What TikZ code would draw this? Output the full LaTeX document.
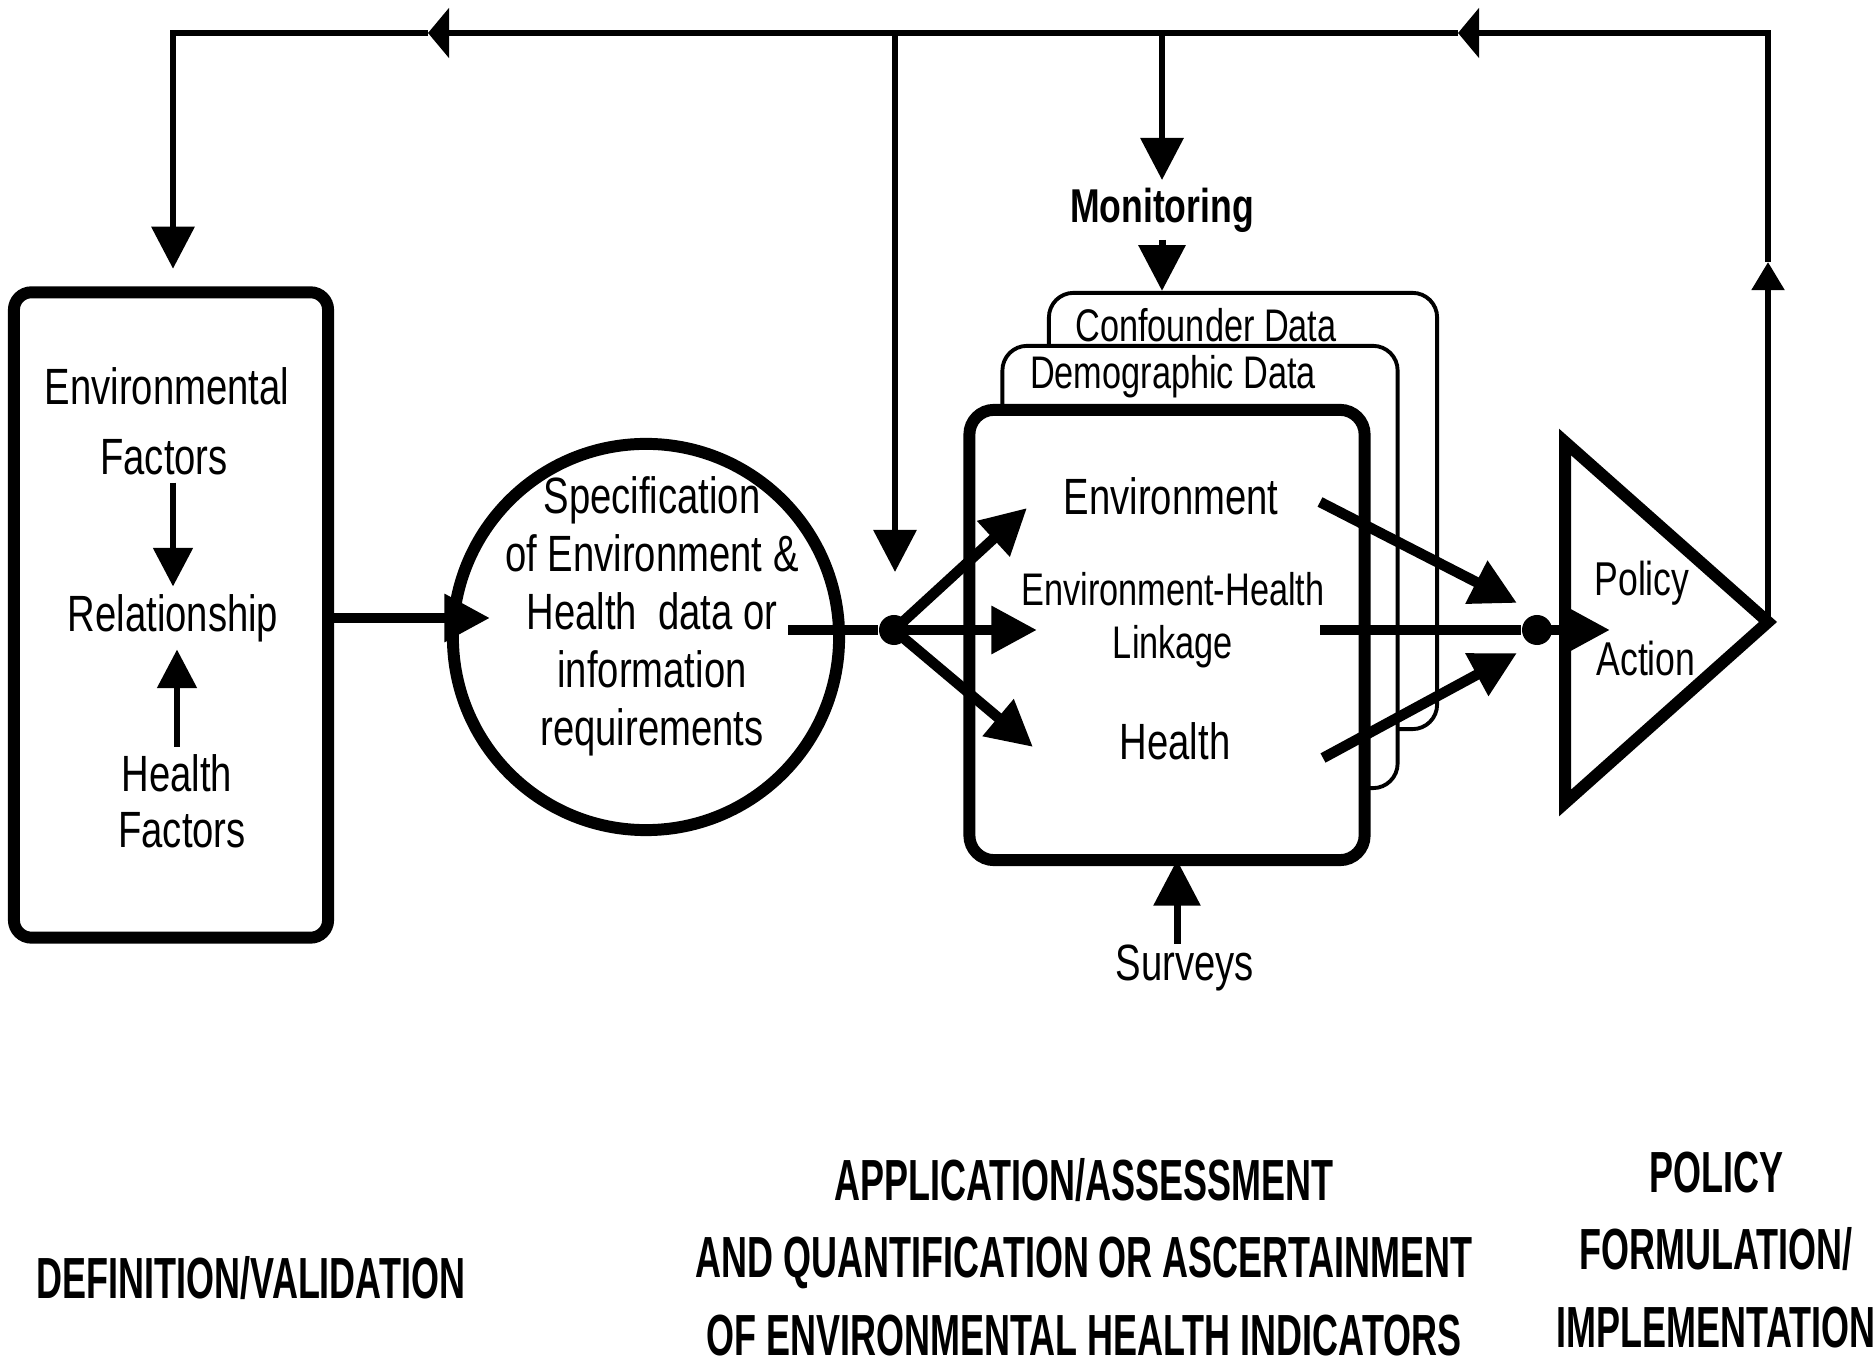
\documentclass[tikz,border=0pt]{standalone}
\usepackage{fontspec}
\setmainfont[FakeStretch=0.75]{Liberation Sans}
\newfontfamily\capsfont[FakeStretch=0.62]{Liberation Sans}
\usetikzlibrary{arrows.meta}

\tikzset{
  txt/.style={inner sep=2pt, font=\fontsize{14.5}{17}\selectfont},
  smalltxt/.style={inner sep=2pt, font=\fontsize{13}{15}\selectfont},
  headtxt/.style={inner sep=2pt, align=center, font=\capsfont\bfseries\fontsize{16.5}{22}\selectfont},
  heavybox/.style={draw, line width=3.4pt, fill=white},
  thinbox/.style={draw, line width=1.1pt, fill=white, rounded corners=7pt},
  dot/.style={circle, fill, inner sep=0pt, minimum size=0.3cm},
  bigarr/.style={line width=3pt, -{Triangle[length=13pt,width=13pt]}},
  bigline/.style={line width=3pt},
  smallarr/.style={line width=1.8pt, -{Triangle[length=11pt,width=11pt]}},
  topline/.style={line width=1.8pt},
  toparr/.style={line width=1.8pt, -{Triangle[length=12pt,width=12pt]}},
  midarr/.style={line width=1.8pt, -{Triangle[length=6pt,width=14pt]}},
}

\begin{document}
\begin{tikzpicture}[x=0.01cm, y=-0.01cm]
\useasboundingbox (0,0) rectangle (1873,1368);

% definition box
\node[heavybox, rounded corners=5pt, minimum width=3.14cm, minimum height=6.45cm] (defbox) at (171,615) {};
\node[txt] (ef1) at (167,386) {Environmental};
\node[txt] (ef2) at (164,457) {Factors};
\node[txt] (rel) at (173,618) {Relationship};
\node[txt] (hf1) at (177,773) {Health};
\node[txt] (hf2) at (182,830) {Factors};
\draw[smallarr] (rel.north |- ef2.south) -- (rel.north);
\draw[smallarr] (hf1.north) -- (hf1.north |- rel.south);

% specification circle
\node[heavybox, circle, minimum size=3.86cm] (spec) at (646,637) {};
\node[align=center, inner sep=0pt, font=\fontsize{14.5}{16.5}\selectfont] (spectxt) at (652,616)
  {Specification\\of Environment \&\\Health\ \ data or\\information\\requirements};
\coordinate (specin) at (490,618);
\coordinate (specout) at (788,630);
\draw[bigarr] (defbox.east |- specin) -- (specin);

% data boxes
\node[thinbox, minimum width=3.88cm, minimum height=4.36cm] (confbox) at (1243,511) {};
\node[smalltxt] (conftxt) at (1206,325) {Confounder Data};
\node[thinbox, minimum width=3.95cm, minimum height=4.42cm] (demobox) at (1200,567) {};
\node[smalltxt] (demotxt) at (1173,377) {Demographic Data};
\node[heavybox, rounded corners=7pt, minimum width=3.95cm, minimum height=4.5cm] (mainbox) at (1167,635) {};
\node[txt] (env) at (1171,496) {Environment};
\node[smalltxt, align=center] (link) at (1173,620) {Environment-Health\\Linkage};
\node[txt] (hlth) at (1175,741) {Health};

\node[inner sep=2pt, font=\bfseries\fontsize{13.5}{16}\selectfont] (mon) at (1162,210) {Monitoring};
\draw[bigarr, line width=2pt] (mon.south) -- (mon.south |- confbox.north);
\node[txt] (surv) at (1185,968) {Surveys};
\draw[bigarr, line width=2pt] (1177,944) -- (1177,860);

% policy triangle
\coordinate (ptop) at (1565,442);
\coordinate (pbot) at (1565,803);
\coordinate (tip) at (1768,622);
\draw[line width=3.4pt, line join=miter] (ptop) -- (tip) -- (pbot) -- cycle;
\node[inner sep=2pt, font=\fontsize{13.5}{16}\selectfont] (pol) at (1642,583) {Policy};
\node[inner sep=2pt, font=\fontsize{13.5}{16}\selectfont] (act) at (1646,659) {Action};

% junctions
\node[dot] (dl) at (894,630) {};
\node[dot] (dr) at (1537,630) {};
\draw[bigline] (specout) -- (dl);
\coordinate (toenv) at (1027,508);
\coordinate (tolink) at (1037,630);
\coordinate (tohlth) at (1033,747);
\draw[bigarr] (dl.center) -- (toenv);
\draw[bigarr] (dl.center) -- (tolink);
\draw[bigarr] (dl.center) -- (tohlth);
\coordinate (envout) at (1320,502);
\coordinate (linkout) at (1320,630);
\coordinate (hlthout) at (1323,758);
\draw[bigarr] (envout) -- (1517,603);
\draw[bigline] (linkout) -- (dr);
\draw[bigarr] (hlthout) -- (1517,653);
\draw[bigarr] (dr.center) -- (1610,630);

% feedback loop
\coordinate (tl) at (173,33);
\coordinate (uparr) at (1768,262);
\coordinate (larr1) at (1458,33);
\coordinate (larr2) at (428,33);
\draw[topline, -{Triangle[length=8pt,width=9pt]}] (tip) -- (uparr);
\draw[midarr] (uparr) -- (tip |- tl) -- (larr1);
\draw[midarr] (larr1) -- (larr2);
\draw[toparr, shorten >=5pt] (larr2) -- (tl) -- (defbox.north -| tl);
\coordinate (branch) at (895,33);
\draw[toparr] (branch) -- (895,572);
\draw[toparr] (mon.north |- tl) -- (mon.north);

% phase labels
\node[headtxt] (defval) at (251,1278) {DEFINITION/VALIDATION};
\node[headtxt] (assess) at (1084,1257) {APPLICATION/ASSESSMENT\\AND QUANTIFICATION OR ASCERTAINMENT\\OF ENVIRONMENTAL HEALTH INDICATORS};
\node[headtxt] (policy) at (1716,1250) {POLICY\\FORMULATION/\\IMPLEMENTATION};
\end{tikzpicture}
\end{document}
